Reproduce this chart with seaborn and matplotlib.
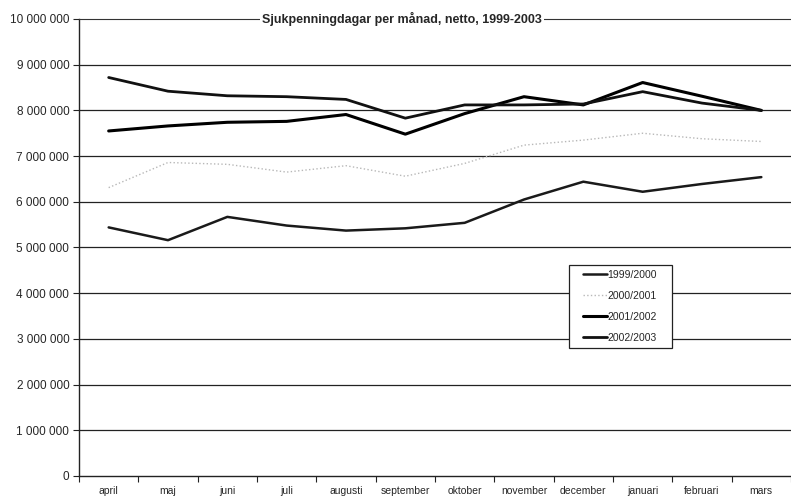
import matplotlib
matplotlib.use("Agg")
import matplotlib.pyplot as plt
import matplotlib.ticker as mticker
from matplotlib.patches import Rectangle
import numpy as np
import pandas as pd
import seaborn as sns

months = ["april", "maj", "juni", "juli", "augusti", "september", "oktober",
          "november", "december", "januari", "februari", "mars"]
series_names = ["1999/2000", "2000/2001", "2001/2002", "2002/2003"]

s1999 = [5.44, 5.16, 5.67, 5.48, 5.37, 5.42, 5.54, 6.05, 6.44, 6.22, 6.39, 6.54]
s2000 = [6.31, 6.86, 6.82, 6.65, 6.79, 6.56, 6.84, 7.24, 7.35, 7.50, 7.38, 7.32]
s2001 = [7.55, 7.66, 7.74, 7.76, 7.91, 7.48, 7.93, 8.30, 8.12, 8.61, 8.31, 8.00]
s2002 = [8.72, 8.42, 8.32, 8.30, 8.24, 7.83, 8.12, 8.12, 8.14, 8.41, 8.16, 8.00]

values = [s1999, s2000, s2001, s2002]
df = pd.DataFrame({
    "månad": months * len(series_names),
    "år": np.repeat(series_names, len(months)),
    "dagar": np.concatenate(values) * 1_000_000,
})

sns.set_theme(style="white")
plt.rcParams["font.family"] = ["Liberation Sans", "DejaVu Sans"]

W, H = 791, 499
fig = plt.figure(figsize=(W / 100, H / 100), dpi=100)
ax = fig.add_axes([79 / W, 1 - 476 / H, 1 - 79 / W, (476 - 19) / H])

palette = {"1999/2000": "#1a1a1a", "2000/2001": "#b8b8b8",
           "2001/2002": "#000000", "2002/2003": "#111111"}
widths = {"1999/2000": 1.8, "2000/2001": 1.0, "2001/2002": 2.2, "2002/2003": 2.0}
styles = {"1999/2000": "-", "2000/2001": ":", "2001/2002": "-", "2002/2003": "-"}

for name in series_names:
    sub = df[df["år"] == name]
    sns.lineplot(data=sub, x="månad", y="dagar", ax=ax, color=palette[name],
                 lw=widths[name], ls=styles[name], label=name, sort=False)

ax.set_xlim(-0.5, len(months) - 0.5)
ax.set_ylim(0, 10_000_000)
ax.set_xlabel("")
ax.set_ylabel("")

# horizontal gridlines every million
ax.yaxis.set_major_locator(mticker.MultipleLocator(1_000_000))
ax.yaxis.set_major_formatter(
    mticker.FuncFormatter(lambda v, p: f"{int(v):,}".replace(",", " ")))
for yv in range(1_000_000, 10_000_000, 1_000_000):
    ax.axhline(yv, color="#222222", lw=0.9, zorder=0)

ax.set_xticks(range(len(months)))
ax.set_xticklabels(months)
ax.tick_params(axis="x", which="major", length=0, labelsize=7.5, pad=7)
ax.set_xticks(np.arange(-0.5, len(months), 1.0), minor=True)
ax.tick_params(axis="x", which="minor", direction="out", length=4, width=0.8,
               color="#222222", bottom=True)
ax.tick_params(axis="y", direction="out", length=4, width=0.8, color="#222222",
               labelsize=8.5, pad=3, left=True)

for side in ["left", "bottom"]:
    ax.spines[side].set_color("#222222")
    ax.spines[side].set_linewidth(1.0)
ax.spines["right"].set_visible(False)
ax.spines["top"].set_linestyle((0, (2, 1)))
ax.spines["top"].set_color("#333333")
ax.spines["top"].set_linewidth(0.8)

fig.text(402 / W, 1 - 19 / H, "Sjukpenningdagar per månad, netto, 1999-2003",
         ha="center", va="center", fontsize=9, fontweight="bold",
         bbox=dict(facecolor="white", edgecolor="none", pad=1.5))

# legend box with its own frame
box = Rectangle((569 / W, 1 - 348 / H), (672 - 569) / W, (348 - 265) / H,
                transform=fig.transFigure, facecolor="white",
                edgecolor="#222222", lw=0.9, zorder=5)
fig.add_artist(box)
leg = ax.legend(loc="center left", bbox_to_anchor=(583 / W, 1 - 306.5 / H),
                bbox_transform=fig.transFigure, frameon=False,
                fontsize=7.5, handlelength=2.3, handletextpad=0.05,
                labelspacing=1.05, borderpad=0, borderaxespad=0)
leg.set_zorder(6)
fig.add_artist(leg)

fig.savefig("out.png", dpi=100, facecolor="white")
